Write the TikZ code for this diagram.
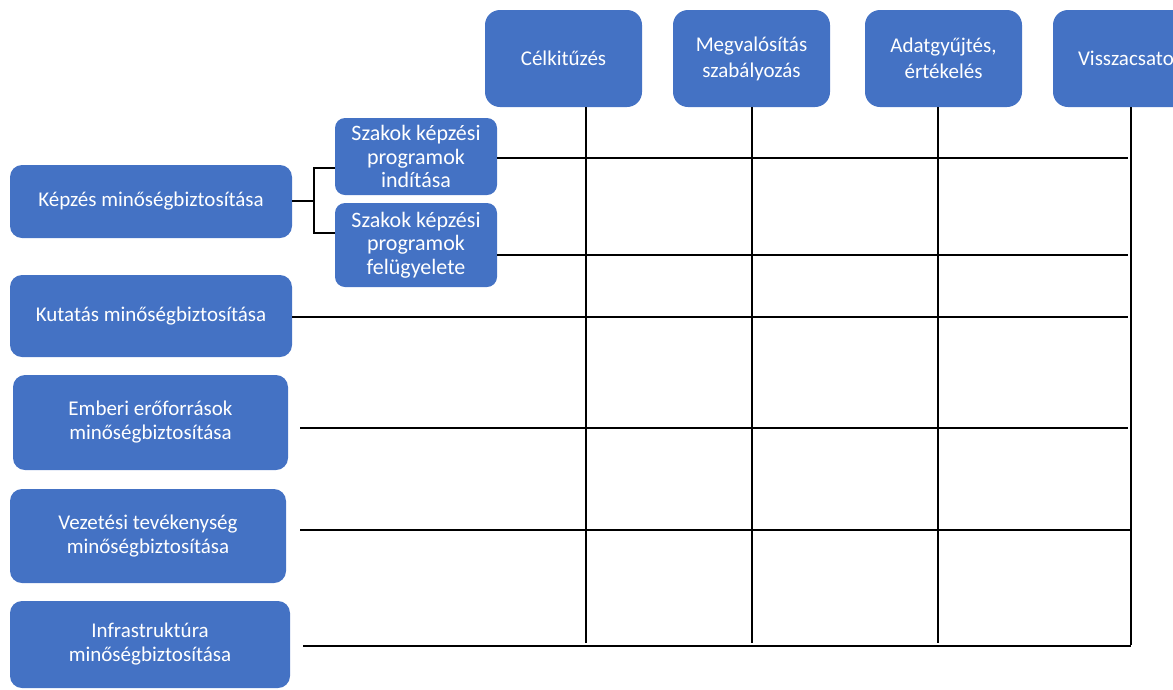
\documentclass[tikz,border=0pt]{standalone}
\usepackage{fontspec}
\setmainfont{Carlito}
\usetikzlibrary{positioning}
\definecolor{boxblue}{HTML}{4472C4}

\begin{document}
\begin{tikzpicture}[x=1pt,y=-1pt,
    box/.style={rectangle, rounded corners=12pt, fill=boxblue, text=white,
      align=center, inner sep=2pt, font=\fontsize{21}{24}\selectfont},
    phase/.style={box, minimum width=157, minimum height=97, rounded corners=15pt,
      font=\fontsize{21}{26}\selectfont},
    subbox/.style={box, minimum width=162, rounded corners=10pt,
      font=\fontsize{22}{23.5}\selectfont},
    rule/.style={line width=1.6pt, black}]
  \useasboundingbox (0,0) rectangle (1173,689);
  \clip (0,0) rectangle (1173,689);

  %phases
  \node[phase] (cel) at (563.5,58.5) {Célkitűzés};
  \node[phase] (megval) at (751.5,58.5) {Megvalósítás\\szabályozás};
  \node[phase] (adat) at (943.5,58.5) {Adatgyűjtés,\\értékelés};
  \node[phase, minimum width=169] (vissza) at (1137.5,58.5) {Visszacsatolás};

  %areas
  \node[box, minimum width=282, minimum height=73] (kepzes) at (151,201.5) {Képzés minőségbiztosítása};
  \node[box, minimum width=282, minimum height=82] (kutatas) at (151,316) {Kutatás minőségbiztosítása};
  \node[box, minimum width=275, minimum height=95] (emberi) at (150.5,422.5) {Emberi erőforrások\\minőségbiztosítása};
  \node[box, minimum width=276, minimum height=94] (vezetes) at (148,536) {Vezetési tevékenység\\minőségbiztosítása};
  \node[box, minimum width=280, minimum height=87] (infra) at (150,644.5) {Infrastruktúra\\minőségbiztosítása};

  %sub areas
  \node[subbox, minimum height=77] (indit) at (416,156.5) {Szakok képzési\\programok\\indítása};
  \node[subbox, minimum height=84] (felugy) at (416,245) {Szakok képzési\\programok\\felügyelete};

  %grid ends
  \coordinate (v1) at (586,643);
  \coordinate (v2) at (752,643);
  \coordinate (v3) at (938,643);
  \coordinate (v4) at (1131,645);
  \coordinate (h1) at (1128,158);
  \coordinate (h2) at (1128,255);
  \coordinate (h3) at (1128,317);
  \coordinate (e3) at (300,428);
  \coordinate (h4) at (1128,428);
  \coordinate (e4) at (300,530);
  \coordinate (h5) at (1130,530);
  \coordinate (e5) at (303,646);
  \coordinate (br) at (314,201);

  \draw[rule] (cel.south -| v1) -- (v1);
  \draw[rule] (megval.south -| v2) -- (v2);
  \draw[rule] (adat.south -| v3) -- (v3);
  \draw[rule] (vissza.south -| v4) -- (v4);

  \draw[rule] (indit.east |- h1) -- (h1);
  \draw[rule] (felugy.east |- h2) -- (h2);
  \draw[rule] (kutatas.east |- h3) -- (h3);
  \draw[rule] (e3) -- (h4);
  \draw[rule] (e4) -- (h5);
  \draw[rule] (e5) -- (v4 |- e5);

  \draw[rule] (kepzes.east |- br) -- (br);
  \draw[rule] (indit.west |- 0,168) -| (br) |- (felugy.west |- 0,233);
\end{tikzpicture}
\end{document}
